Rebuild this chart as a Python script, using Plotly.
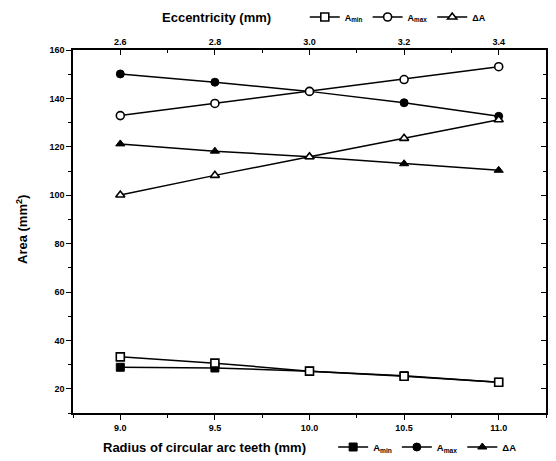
import plotly.graph_objects as go

# Data
radius = [9.0, 9.5, 10.0, 10.5, 11.0]
eccentricity = [2.6, 2.8, 3.0, 3.2, 3.4]

amin_radius = [28.9, 28.6, 27.3, 25.4, 22.7]
amax_radius = [150.1, 146.7, 142.9, 138.2, 132.6]
da_radius = [121.2, 118.2, 115.9, 113.0, 110.3]

amin_ecc = [33.2, 30.6, 27.3, 25.2, 22.7]
amax_ecc = [132.9, 137.9, 142.9, 147.8, 153.1]
da_ecc = [100.1, 108.2, 115.9, 123.5, 131.2]

names = ["A<sub>min</sub>", "A<sub>max</sub>", "\u0394A"]
symbols = ["square", "circle", "triangle-up"]

FONT = "Liberation Sans, Arial, sans-serif"
fig = go.Figure()

line = dict(color="black", width=1.5)
for vals, nm, sym in zip([amin_ecc, amax_ecc, da_ecc], names, symbols):
    fig.add_trace(go.Scatter(
        x=eccentricity, y=vals, xaxis="x2", yaxis="y", name=nm,
        mode="lines+markers", line=line, legend="legend",
        marker=dict(symbol=sym, size=8, color="white", line=dict(color="black", width=1.6))))
for vals, nm, sym in zip([amin_radius, amax_radius, da_radius], names, symbols):
    fig.add_trace(go.Scatter(
        x=radius, y=vals, xaxis="x", yaxis="y", name=nm,
        mode="lines+markers", line=line, legend="legend2",
        marker=dict(symbol=sym, size=8, color="black", line=dict(color="black", width=1))))
# dummy trace for right spine
fig.add_trace(go.Scatter(x=[None], y=[None], xaxis="x", yaxis="y2", showlegend=False))

tickfont = dict(family=FONT, size=9, color="black", weight="bold")
common = dict(showline=True, linecolor="black", linewidth=1.5, showgrid=False, zeroline=False,
              tickcolor="black", tickwidth=1.2, tickfont=tickfont, automargin=False)

# page has an 8px body margin: figure is drawn from (8, 8)
OFF = 8
FW, FH = 556 - OFF, 461 - OFF
L, T = 73 - OFF, 50 - OFF
PW, PH = 473, 363
R, B = FW - L - PW, FH - T - PH

legfont = dict(family=FONT, size=9, color="black", weight="bold")
titlefont = dict(family=FONT, size=13, color="black", weight="bold")
fig.update_layout(
    width=FW, height=FH,
    margin=dict(l=L, r=R, t=T, b=B, autoexpand=False),
    paper_bgcolor="white", plot_bgcolor="white",
    showlegend=True,
    xaxis=dict(range=[8.75, 11.25], tick0=9.0, dtick=0.5, tickformat=".1f", ticks="outside", ticklen=5,
               minor=dict(dtick=0.25, tick0=9.0, ticks="outside", ticklen=3, tickcolor="black"), **common),
    xaxis2=dict(range=[2.5, 3.5], tick0=2.6, dtick=0.2, tickformat=".1f", overlaying="x", side="top",
                ticks="inside", ticklen=5, anchor="y",
                minor=dict(dtick=0.1, tick0=2.6, ticks="inside", ticklen=3, tickcolor="black"), **common),
    yaxis=dict(range=[10, 160], tick0=0, dtick=20, ticks="outside", ticklen=5,
               minor=dict(dtick=10, tick0=0, ticks="outside", ticklen=3, tickcolor="black"), **common),
    yaxis2=dict(range=[10, 160], matches="y", overlaying="y", side="right", tick0=0, dtick=20,
                ticks="inside", ticklen=5, showticklabels=False, anchor="x",
                minor=dict(dtick=10, tick0=0, ticks="inside", ticklen=3, tickcolor="black"), **common),
    legend=dict(orientation="h", x=0.49, y=1 + (50 - 17) / PH, xanchor="left", yanchor="middle",
                font=legfont, bgcolor="rgba(0,0,0,0)", itemwidth=30, tracegroupgap=0),
    legend2=dict(orientation="h", x=0.55, y=-(447 - 413) / PH, xanchor="left", yanchor="middle",
                 font=dict(family=FONT, size=9.5, color="black", weight="bold"),
                 bgcolor="rgba(0,0,0,0)", itemwidth=30, tracegroupgap=0),
    annotations=[
        dict(text="Eccentricity (mm)", x=216, y=17, xref="paper", yref="paper", showarrow=False,
             xanchor="center", yanchor="middle", font=titlefont),
        dict(text="Radius of circular arc teeth (mm)", x=204, y=447, xref="paper", yref="paper",
             showarrow=False, xanchor="center", yanchor="middle", font=titlefont),
        dict(text="Area (mm<sup>2</sup>)", x=22, y=230, xref="paper", yref="paper", showarrow=False,
             xanchor="center", yanchor="middle", textangle=-90, font=titlefont),
    ],
)

# convert page-pixel annotation positions to paper coordinates
for a in fig.layout.annotations:
    a.x = (a.x - 73) / PW
    a.y = 1 - (a.y - 50) / PH

fig.write_html("out.html")
